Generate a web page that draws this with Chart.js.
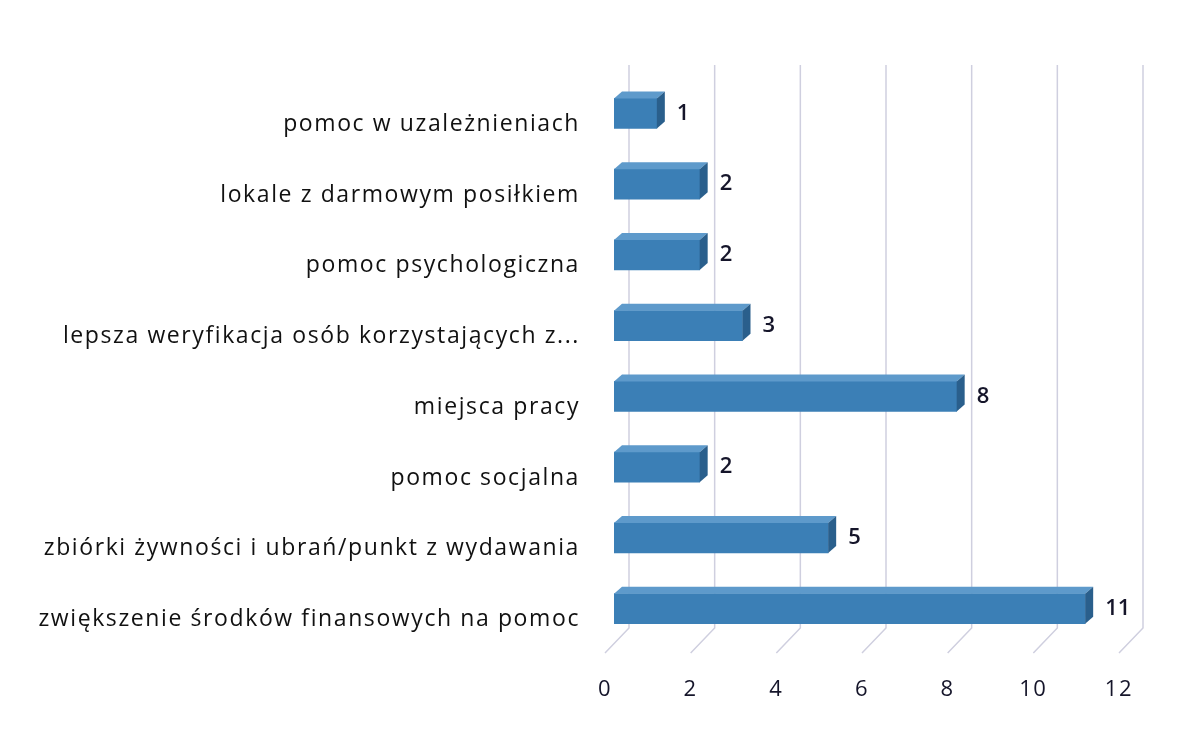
<!DOCTYPE html>
<html>
<head>
<meta charset="utf-8">
<script src="https://cdn.jsdelivr.net/npm/chart.js@4"></script>
<style>
  html, body { margin: 0; padding: 0; background: #fff; }
  #wrap { width: 1189px; height: 733px; }
</style>
</head>
<body>
<div id="wrap"><canvas id="Bar"></canvas></div>
<script>
const categories = [
  'pomoc w uzależnieniach',
  'lokale z darmowym posiłkiem',
  'pomoc psychologiczna',
  'lepsza weryfikacja osób korzystających z...',
  'miejsca pracy',
  'pomoc socjalna',
  'zbiórki żywności i ubrań/punkt z wydawania',
  'zwiększenie środków finansowych na pomoc'
];
const counts = [1, 2, 2, 3, 8, 2, 5, 11];
const xTicks = [0, 2, 4, 6, 8, 10, 12];

const FONT = 'Open Sans';
const DX = 8, DY = 7; // bar depth

// fake 3D walls + bar faces
const threeD = {
  id: 'threeD',
  beforeDraw(chart) {
    // scanned excel text is wide, spread letters a bit
    chart.ctx.letterSpacing = '1.6px';
  },
  beforeDatasetsDraw(chart) {
    const { ctx, chartArea, scales } = chart;
    ctx.save();
    ctx.strokeStyle = '#cfcfdf';
    ctx.lineWidth = 1.5;
    xTicks.forEach(v => {
      const px = scales.x.getPixelForValue(v);
      ctx.beginPath();
      ctx.moveTo(px + 15, chartArea.top - 13);
      ctx.lineTo(px + 15, chartArea.bottom - 16);
      ctx.lineTo(px - 9, chartArea.bottom + 9);
      ctx.stroke();
    });
    ctx.restore();
  },
  afterDatasetsDraw(chart) {
    const { ctx } = chart;
    const meta = chart.getDatasetMeta(0);
    ctx.save();
    ctx.letterSpacing = '0px';
    meta.data.forEach((bar, i) => {
      const top = bar.y - bar.height / 2;
      const bottom = bar.y + bar.height / 2;
      ctx.fillStyle = '#5e9acb';
      ctx.beginPath();
      ctx.moveTo(bar.base, top);
      ctx.lineTo(bar.x, top);
      ctx.lineTo(bar.x + DX, top - DY);
      ctx.lineTo(bar.base + DX, top - DY);
      ctx.closePath();
      ctx.fill();
      ctx.fillStyle = '#2a5f8c';
      ctx.beginPath();
      ctx.moveTo(bar.x, top);
      ctx.lineTo(bar.x + DX, top - DY);
      ctx.lineTo(bar.x + DX, bottom - DY);
      ctx.lineTo(bar.x, bottom);
      ctx.closePath();
      ctx.fill();
      ctx.fillStyle = '#15152a';
      ctx.font = '600 22px "' + FONT + '"';
      ctx.textAlign = 'left';
      ctx.textBaseline = 'middle';
      ctx.fillText(String(counts[i]), bar.x + DX + 12, bar.y);
    });
    ctx.restore();
  }
};

const ctx = document.getElementById('Bar');

const barChart = new Chart(ctx, {
  type: 'bar',
  data: {
    labels: categories,
    datasets: [
      {
        label: 'liczba wskazań',
        data: counts,
        backgroundColor: '#3b7fb6',
        borderWidth: 0,
        barThickness: 30
      }
    ]
  },
  options: {
    indexAxis: 'y',
    responsive: true,
    maintainAspectRatio: false,
    animation: false,
    layout: { padding: { top: 78, right: 61, bottom: 0, left: 0 } },
    plugins: {
      legend: { display: false },
      tooltip: { enabled: false }
    },
    scales: {
      x: {
        min: 0,
        max: 12,
        afterFit: (s) => { s.height = 89; },
        afterBuildTicks: (s) => { s.ticks = xTicks.map(v => ({ value: v })); },
        grid: { display: false, drawTicks: false },
        border: { display: false },
        ticks: {
          padding: 33,
          labelOffset: -9,
          color: '#15152a',
          font: { family: FONT, size: 22 }
        }
      },
      y: {
        afterFit: (s) => { s.width = 614; },
        grid: { display: false, drawTicks: false },
        border: { display: false },
        ticks: {
          padding: 34,
          labelOffset: 11,
          color: '#111',
          font: { family: FONT, size: 23 }
        }
      }
    }
  },
  plugins: [threeD]
});
</script>
</body>
</html>
